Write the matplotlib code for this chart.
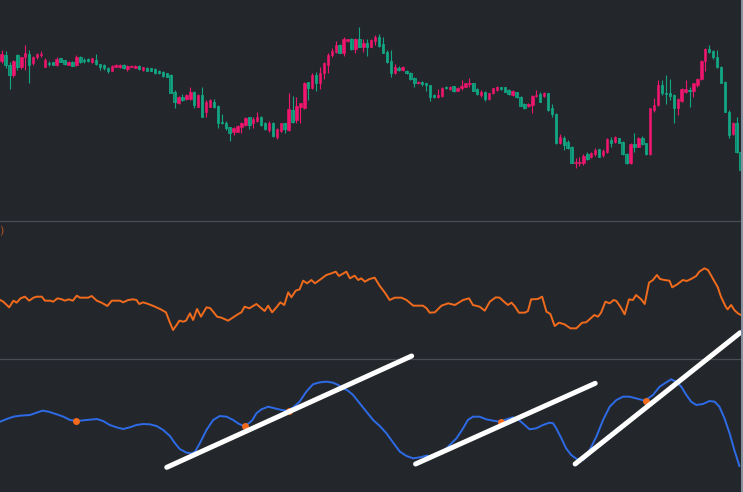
import numpy as np
import matplotlib
matplotlib.use("Agg")
import matplotlib.pyplot as plt
from matplotlib.patches import Rectangle

BG = "#23272c"
UP = "#f0166f"
DOWN_FILL = "#0a8a6c"
DOWN_EDGE = "#14a584"
ORANGE = "#f26b1d"
BLUE = "#2e6be6"
SEP = "#4a4e54"

# candles (price units)
opens = [418, 435, 405, 375, 435, 400, 430, 438, 410, 428,
         434, 400, 412, 413, 405, 425, 420, 405, 415, 405,
         428, 420, 422, 413, 420, 407, 405, 397, 388, 400,
         398, 405, 392, 400, 397, 402, 390, 397, 395, 393,
         388, 385, 380, 375, 325, 290, 310, 303, 303, 325,
         280, 315, 265, 280, 295, 282, 235, 232, 218, 205,
         205, 220, 225, 248, 230, 238, 250, 232, 210, 232,
         190, 207, 230, 210, 270, 240, 278, 275, 355, 335,
         375, 350, 380, 405, 435, 443, 465, 442, 477, 483,
         453, 482, 460, 472, 460, 478, 490, 468, 445, 418,
         380, 397, 390, 387, 382, 365, 350, 353, 350, 345,
         315, 310, 313, 340, 333, 342, 328, 335, 340, 347,
         350, 333, 315, 325, 302, 320, 330, 338, 338, 330,
         315, 323, 310, 288, 282, 285, 313, 317, 313, 320,
         275, 258, 170, 187, 175, 160, 112, 110, 112, 137,
         130, 137, 152, 135, 145, 180, 175, 185, 175, 138,
         110, 168, 160, 187, 170, 138, 270, 285, 345, 322,
         320, 315, 275, 298, 325, 330, 327, 345, 362, 418,
         452, 447, 428, 400, 355, 265, 197, 232, 145]
highs = [450, 448, 415, 420, 438, 430, 465, 450, 432, 442,
         447, 425, 417, 415, 428, 427, 421, 417, 417, 435,
         432, 425, 425, 427, 438, 407, 407, 400, 405, 407,
         407, 407, 405, 405, 405, 404, 400, 399, 397, 395,
         390, 387, 382, 377, 330, 312, 317, 317, 338, 327,
         317, 338, 300, 302, 303, 285, 258, 238, 220, 220,
         224, 235, 248, 250, 248, 263, 252, 234, 238, 234,
         215, 232, 232, 322, 312, 308, 292, 354, 355, 380,
         385, 400, 415, 440, 455, 478, 467, 488, 484, 485,
         485, 518, 482, 482, 482, 495, 498, 488, 450, 450,
         407, 402, 402, 390, 384, 368, 357, 357, 352, 345,
         317, 332, 338, 342, 342, 342, 339, 360, 352, 365,
         352, 335, 330, 328, 322, 337, 342, 340, 340, 332,
         330, 325, 313, 292, 290, 315, 330, 323, 323, 322,
         288, 260, 198, 192, 180, 162, 125, 130, 138, 145,
         145, 157, 154, 153, 185, 188, 192, 187, 177, 140,
         170, 200, 189, 192, 172, 277, 305, 360, 360, 375,
         363, 317, 305, 335, 360, 340, 352, 365, 420, 455,
         465, 450, 450, 402, 357, 270, 234, 250, 157]
lows = [410, 395, 332, 370, 390, 392, 390, 350, 405, 422,
        430, 400, 402, 404, 403, 414, 405, 404, 402, 403,
        410, 410, 415, 412, 405, 390, 390, 382, 386, 398,
        396, 394, 388, 398, 396, 391, 387, 387, 386, 378,
        378, 370, 368, 320, 275, 288, 297, 301, 300, 275,
        278, 248, 250, 278, 275, 215, 228, 210, 178, 195,
        203, 200, 222, 212, 215, 235, 223, 210, 205, 190,
        182, 205, 200, 208, 230, 232, 232, 273, 300, 332,
        328, 332, 363, 382, 430, 440, 440, 432, 475, 451,
        440, 458, 445, 432, 458, 465, 460, 440, 410, 368,
        378, 387, 388, 377, 360, 338, 348, 342, 328, 298,
        306, 305, 310, 332, 331, 325, 326, 330, 338, 340,
        326, 315, 310, 298, 300, 318, 328, 330, 323, 315,
        313, 305, 282, 273, 280, 260, 310, 295, 310, 268,
        248, 168, 168, 150, 153, 110, 95, 102, 105, 120,
        125, 133, 128, 130, 140, 160, 170, 170, 136, 108,
        108, 145, 158, 164, 136, 136, 265, 282, 315, 288,
        300, 232, 255, 295, 320, 278, 308, 338, 360, 388,
        442, 422, 395, 350, 263, 187, 195, 142, 85]
closes = [437, 405, 375, 417, 400, 428, 440, 405, 428, 437,
          437, 420, 408, 405, 423, 415, 407, 415, 403, 430,
          415, 417, 418, 425, 407, 400, 395, 387, 403, 405,
          405, 395, 402, 403, 403, 392, 398, 388, 387, 380,
          380, 372, 370, 322, 295, 310, 300, 315, 325, 285,
          315, 250, 295, 300, 280, 230, 230, 215, 200, 215,
          222, 230, 245, 225, 243, 250, 225, 212, 230, 192,
          212, 230, 212, 272, 235, 282, 290, 352, 335, 375,
          352, 380, 410, 435, 447, 465, 442, 482, 482, 453,
          483, 460, 472, 460, 480, 490, 463, 442, 415, 382,
          400, 390, 400, 380, 362, 350, 355, 347, 345, 310,
          308, 315, 335, 335, 340, 328, 337, 343, 350, 352,
          328, 317, 325, 302, 320, 335, 340, 332, 325, 317,
          327, 308, 282, 275, 288, 313, 315, 295, 320, 270,
          257, 170, 188, 165, 155, 112, 115, 115, 133, 123,
          142, 150, 130, 147, 182, 172, 188, 172, 138, 110,
          168, 160, 187, 167, 138, 275, 285, 345, 320, 318,
          312, 275, 303, 332, 332, 328, 350, 363, 418, 452,
          445, 428, 398, 352, 265, 195, 232, 145, 90]

# middle panel indicator (bar index, value)
orange_x = [-0.4, 0.4, 1.9, 3.0, 3.8, 4.8, 5.9, 7.0, 8.1, 8.9,
            10.2, 11.0, 12.3, 13.1, 14.2, 15.3, 16.1, 17.0, 18.1, 19.1,
            19.9, 22.0, 22.9, 24.2, 25.4, 26.9, 28.0, 30.1, 30.9, 32.2,
            33.5, 34.3, 35.0, 36.0, 37.3, 38.6, 40.3, 41.8, 42.8, 43.6,
            44.5, 45.2, 46.2, 46.9, 47.9, 48.7, 49.7, 50.7, 52.1, 53.0,
            53.8, 54.8, 55.9, 57.6, 58.9, 60.2, 61.0, 61.8, 63.0, 64.8,
            66.9, 67.8, 68.8, 69.9, 70.9, 71.9, 72.9, 73.7, 74.8, 75.8,
            76.7, 77.7, 78.8, 79.7, 80.9, 82.6, 83.9, 85.0, 85.8, 87.7,
            88.6, 89.8, 90.7, 91.5, 92.4, 93.6, 94.9, 96.2, 97.5, 98.7,
            100.0, 101.7, 103.0, 104.7, 107.2, 108.1, 108.9, 110.2, 111.9, 113.6,
            115.3, 117.4, 118.9, 119.9, 121.6, 122.9, 124.2, 125.7, 126.7, 127.6,
            128.8, 129.7, 130.5, 131.6, 133.1, 133.9, 134.7, 136.4, 137.5, 138.6,
            139.6, 140.7, 141.8, 143.2, 144.7, 146.2, 147.7, 148.7, 150.8, 151.7,
            152.5, 153.6, 154.7, 155.7, 156.4, 157.4, 158.5, 159.6, 160.6, 161.4,
            162.7, 163.6, 164.7, 165.7, 166.7, 167.5, 168.6, 169.9, 170.6, 172.0,
            173.3, 174.3, 175.4, 176.7, 177.5, 178.8, 179.7, 180.9, 182.2, 183.0,
            184.2, 184.7, 185.6, 186.4, 187.3, 188.1]
orange_y = [200, 195, 178, 198, 192, 205, 210, 198, 207, 210,
            210, 198, 198, 195, 205, 202, 198, 202, 198, 213,
            207, 207, 212, 198, 192, 182, 198, 198, 193, 200,
            202, 200, 188, 193, 188, 182, 173, 163, 132, 110,
            125, 138, 135, 138, 160, 140, 173, 150, 178, 176,
            165, 150, 147, 138, 148, 158, 163, 180, 175, 188,
            167, 183, 163, 178, 193, 185, 223, 208, 228, 232,
            258, 250, 260, 250, 260, 275, 280, 285, 272, 285,
            265, 273, 260, 265, 255, 263, 267, 242, 222, 200,
            207, 207, 200, 183, 183, 175, 162, 163, 183, 190,
            185, 200, 205, 185, 180, 168, 195, 208, 207, 197,
            185, 192, 182, 162, 162, 167, 202, 203, 210, 165,
            158, 122, 132, 127, 115, 115, 132, 133, 155, 150,
            162, 195, 190, 200, 197, 180, 157, 202, 200, 215,
            202, 188, 252, 260, 275, 263, 260, 258, 238, 248,
            260, 257, 263, 272, 285, 295, 290, 265, 238, 210,
            180, 172, 185, 170, 160, 155]

# bottom panel oscillator (bar index, value)
blue_x = [-0.4, 1.3, 3.0, 4.7, 7.2, 8.9, 10.4, 11.9, 14.0, 15.7,
          17.4, 19.1, 21.6, 24.2, 25.8, 27.5, 29.2, 30.9, 32.6, 34.3,
          36.0, 37.7, 39.4, 41.1, 42.8, 44.1, 45.3, 47.0, 48.3, 49.2,
          50.4, 52.1, 53.8, 55.5, 57.2, 58.9, 60.4, 61.7, 63.1, 63.8,
          64.8, 66.1, 67.8, 69.5, 71.2, 72.6, 74.2, 75.8, 77.5, 79.2,
          80.9, 82.6, 84.3, 85.6, 86.9, 88.1, 89.4, 91.1, 92.8, 94.5,
          96.2, 97.9, 99.6, 101.3, 103.0, 104.7, 106.4, 108.1, 109.3, 110.6,
          112.3, 114.0, 115.7, 117.4, 118.6, 119.9, 121.6, 123.3, 125.0, 126.7,
          128.4, 130.1, 131.4, 132.6, 134.3, 136.0, 137.7, 139.4, 140.3, 141.1,
          142.4, 143.6, 144.9, 146.4, 148.0, 149.6, 151.3, 153.0, 154.7, 156.4,
          158.1, 159.7, 161.4, 163.6, 165.7, 167.4, 169.1, 170.3, 171.6, 172.9,
          174.2, 175.4, 176.7, 178.4, 180.1, 181.4, 182.6, 183.9, 185.2, 186.4,
          187.7]
blue_y = [235, 243, 250, 253, 255, 262, 268, 265, 257, 250,
          240, 237, 240, 243, 237, 225, 218, 213, 218, 225,
          228, 227, 222, 210, 192, 170, 153, 142, 140, 145,
          170, 210, 240, 252, 250, 240, 228, 222, 232, 240,
          260, 272, 280, 275, 270, 268, 278, 295, 325, 347,
          353, 355, 352, 345, 335, 328, 315, 290, 265, 240,
          222, 200, 172, 145, 132, 125, 128, 133, 132, 140,
          145, 165, 185, 215, 240, 250, 250, 242, 238, 235,
          242, 248, 242, 230, 212, 215, 225, 232, 230, 215,
          185, 155, 135, 122, 120, 150, 190, 240, 280, 300,
          310, 310, 305, 298, 315, 340, 353, 362, 355, 340,
          315, 295, 285, 288, 297, 295, 280, 245, 200, 150,
          102]

dot_x = [19, 62, 73, 127, 164]
dot_y = [237, 222, 268, 235, 298]

trend_x = [(42.0, 104.3), (105.3, 151.0), (145.9, 187.9)]
trend_y = [(98, 432), (108, 350), (108, 502)]

W, H = 743, 492
fig = plt.figure(figsize=(W / 100, H / 100), dpi=100, facecolor=BG)

xl = (-0.43, 188.1)
ax1 = fig.add_axes([0, (H - 221) / H, 741 / W, 221 / H])
ax2 = fig.add_axes([0, (H - 359.3) / H, 741 / W, 138.3 / H])
ax3 = fig.add_axes([0, 0, 741 / W, 132.7 / H])

for ax in (ax1, ax2, ax3):
    ax.set_facecolor(BG)
    ax.set_xlim(*xl)
    ax.set_xticks([])
    ax.set_yticks([])
    for s in ax.spines.values():
        s.set_visible(False)
for ax in (ax2, ax3):
    ax.spines["top"].set_visible(True)
    ax.spines["top"].set_color(SEP)
    ax.spines["top"].set_linewidth(0.9)

# candles
o = np.array(opens)
c = np.array(closes)
hi = np.array(highs)
lo = np.array(lows)
x = np.arange(len(o))
up = c >= o
ax1.vlines(x[up], lo[up], hi[up], color=UP, linewidth=0.8)
ax1.vlines(x[~up], lo[~up], hi[~up], color=DOWN_EDGE, linewidth=0.8)
body_lo = np.minimum(o, c)
body_h = np.maximum(np.abs(c - o), 1.5)
ax1.bar(x[up], body_h[up], bottom=body_lo[up], width=0.62,
        color=UP, edgecolor=UP, linewidth=0.4)
ax1.bar(x[~up], body_h[~up], bottom=body_lo[~up], width=0.62,
        color=DOWN_FILL, edgecolor=DOWN_EDGE, linewidth=0.6)
ax1.set_ylim(-63, 600)

# middle indicator
ax2.plot(orange_x, orange_y, color=ORANGE, linewidth=1.4)
ax2.set_ylim(22.1, 437)

# bottom oscillator
ax3.plot(blue_x, blue_y, color=BLUE, linewidth=1.4)
ax3.plot(dot_x, dot_y, "o", color=ORANGE, markersize=4, zorder=4)
for tx, ty in zip(trend_x, trend_y):
    ax3.plot(tx, ty, color="white", linewidth=3.6,
             solid_capstyle="round", clip_on=False, zorder=5)
ax3.set_ylim(24, 422.1)

# cut-off legend text and price scale border
fig.text(3.5 / W, (H - 230.5) / H, ")", color="#b4531f", fontsize=8,
         ha="right", va="center")
fig.patches.append(Rectangle((741 / W, 0), 2 / W, 1, transform=fig.transFigure,
                             facecolor="#86919f", edgecolor="none"))

plt.savefig("out.png", dpi=100, facecolor=BG)
plt.close()
